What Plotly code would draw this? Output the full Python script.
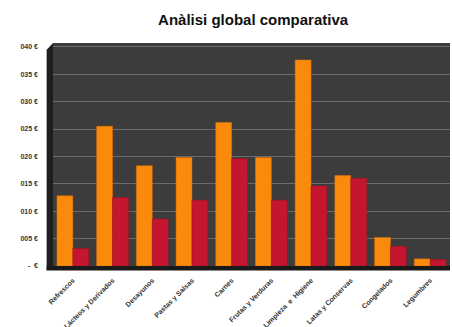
import plotly.graph_objects as go

categories = ["Refrescos", "Lácteos y Derivados", "Desayunos", "Pastas y Salsas", "Carnes",
              "Frutas y Verduras", "Limpieza  e  Higiene", "Latas y Conservas", "Congelados", "Legumbres"]
serie_a = [12.8, 25.5, 18.3, 19.8, 26.2, 19.8, 37.6, 16.5, 5.2, 1.3]
serie_b = [3.2, 12.5, 8.6, 12.0, 19.6, 12.0, 14.6, 16.0, 3.6, 1.2]
tick_vals = [0, 5, 10, 15, 20, 25, 30, 35, 40]
tick_text = ["-  €", "005 €", "010 €", "015 €", "020 €", "025 €", "030 €", "035 €", "040 €"]

fig = go.Figure()
fig.add_trace(go.Bar(x=categories, y=serie_a, name="A",
                     marker=dict(color="#F98A0C", line=dict(color="#E07000", width=0.5))))
fig.add_trace(go.Bar(x=categories, y=serie_b, name="B",
                     marker=dict(color="#C4162F", line=dict(color="#A01028", width=0.5))))

fig.update_layout(
    width=452, height=327,
    margin=dict(l=53, r=2, t=43, b=61),
    paper_bgcolor="white",
    plot_bgcolor="#3c3c3c",
    showlegend=False,
    barmode="group",
    bargap=0.2, bargroupgap=0.0,
    title=dict(text="<b>Anàlisi global comparativa</b>", x=0.56, xanchor="center",
               y=0.94, yanchor="middle",
               font=dict(family="Arial, Liberation Sans", size=15, color="#111")),
    xaxis=dict(tickangle=-45, tickfont=dict(family="Arial, Liberation Sans", size=7, color="#333"),
               showgrid=False, ticks="", showline=False, ticklabelstandoff=8, automargin=False),
    yaxis=dict(range=[0, 40.7], tickvals=tick_vals, ticktext=tick_text,
               tickfont=dict(family="Arial, Liberation Sans", size=7, color="#333"),
               showgrid=True, gridcolor="#6c6c6c", gridwidth=1, zeroline=False,
               ticks="", ticklabelstandoff=14, automargin=False),
    font=dict(family="Arial, Liberation Sans"),
    shapes=[
        dict(type="path", xref="paper", yref="paper",
             path="M -0.016 -0.02 L 0 0 L 0 1 L -0.016 0.97 Z",
             fillcolor="#1e1e1e", line=dict(width=0), layer="below"),
        dict(type="rect", xref="paper", yref="paper", x0=-0.016, x1=1.0, y0=-0.02, y1=0.0,
             fillcolor="#1a1a1a", line=dict(width=0), layer="below"),
    ],
)
fig.update_xaxes(tickfont=dict(weight="bold"))
fig.update_yaxes(tickfont=dict(weight="bold"))

fig.write_html("out.html")
